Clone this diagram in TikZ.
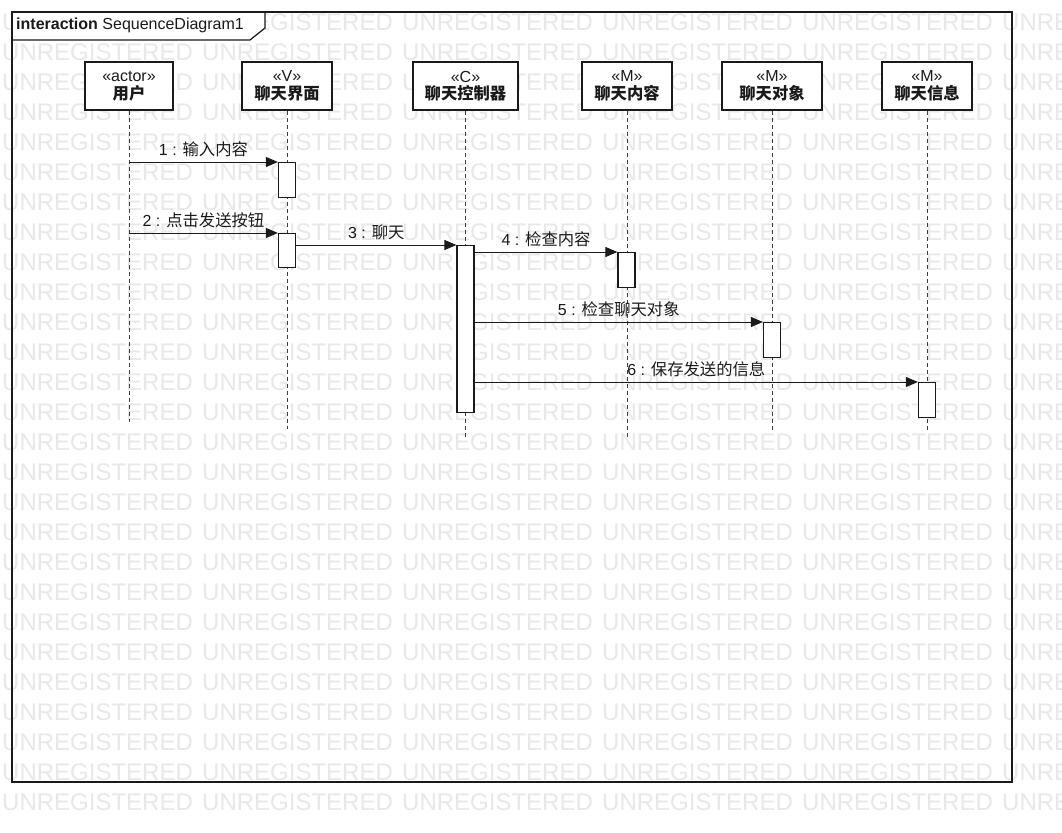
\documentclass[tikz,border=0pt]{standalone}
\usepackage{fontspec}
\setmainfont{Liberation Sans}
\newfontfamily\cjk[Scale=1.02]{Noto Sans CJK SC}
\usetikzlibrary{arrows.meta}
\definecolor{wm}{HTML}{E8E8E8}
\definecolor{ink}{HTML}{1A1A1A}
\begin{document}
\begin{tikzpicture}[x=1pt,y=-1pt,
  wmtext/.style={anchor=west, inner sep=0pt, text=wm, font=\fontsize{24}{24}\selectfont},
  frame/.style={draw=ink, line width=1.2pt},
  head/.style={draw=ink, line width=1.2pt, fill=white, minimum height=48pt, inner sep=0pt,
    align=center, text=ink, font=\fontsize{16}{17.5}\selectfont},
  lifeline/.style={draw=ink!85, line width=1pt, dash pattern=on 4pt off 3pt},
  act/.style={draw=ink, line width=1.2pt, fill=white, minimum width=17pt, inner sep=0pt, anchor=north},
  msg/.style={draw=ink, line width=1pt, -{Triangle[length=12pt,width=10pt]}},
  lbl/.style={midway, yshift=13pt, inner sep=0pt, text=ink, font=\fontsize{16}{18}\selectfont}]
\useasboundingbox (0,0) rectangle (1062,832);
\clip (0,0) rectangle (1062,832);
\fill[white] (0,0) rectangle (1062,832);
% watermark
\foreach \r in {0,...,26}{
  \foreach \c in {0,...,5}{
    \node[wmtext] (wm-\r-\c) at ({2+200*\c},{22+30*\r}) {UNREGISTERED};
  }
}
% frame
\draw[frame, fill=white] (12,12) -- (265,12) -- (265,28) -- (250,40) -- (12,40) -- cycle;
\draw[frame] (12,12) rectangle (1012,782);
\node[anchor=west, inner sep=0pt, text=ink, font=\fontsize{16}{18}\selectfont] (title) at (16,25)
  {\textbf{interaction} SequenceDiagram1};
% lifeline heads
\node[head, minimum width=88pt]  (user) at (129,86)   {«actor»\\{\cjk\bfseries 用户}};
\node[head, minimum width=90pt]  (view) at (287,86)   {«V»\\{\cjk\bfseries 聊天界面}};
\node[head, minimum width=105pt] (ctrl) at (465.5,86) {«C»\\{\cjk\bfseries 聊天控制器}};
\node[head, minimum width=90pt]  (cont) at (627,86)   {«M»\\{\cjk\bfseries 聊天内容}};
\node[head, minimum width=100pt] (peer) at (772,86)   {«M»\\{\cjk\bfseries 聊天对象}};
\node[head, minimum width=90pt]  (info) at (927,86)   {«M»\\{\cjk\bfseries 聊天信息}};
% lifelines
\coordinate (userEnd) at (129,422);
\coordinate (viewEnd) at (287,429);
\coordinate (ctrlEnd) at (465.5,438);
\coordinate (contEnd) at (627,438);
\coordinate (peerEnd) at (772,430);
\coordinate (infoEnd) at (927,431);
\draw[lifeline] (user.south) -- (userEnd);
\draw[lifeline] (view.south) -- (viewEnd);
\draw[lifeline] (ctrl.south) -- (ctrlEnd);
\draw[lifeline] (cont.south) -- (contEnd);
\draw[lifeline] (peer.south) -- (peerEnd);
\draw[lifeline] (info.south) -- (infoEnd);
% activations
\node[act, minimum height=35pt]  (a1) at (287,162) {};
\node[act, minimum height=34pt]  (a2) at (287,233) {};
\node[act, minimum height=167pt] (a3) at (465.5,245) {};
\node[act, minimum height=35pt]  (a4) at (626.5,252) {};
\node[act, minimum height=35pt]  (a5) at (772,322) {};
\node[act, minimum height=35pt]  (a6) at (927,382) {};
% messages
\draw[msg] (user.south |- a1.north) -- (a1.north west) node[lbl] (m1) {1 : {\cjk 输入内容}};
\draw[msg] (user.south |- a2.north) -- (a2.north west) node[lbl] (m2) {2 : {\cjk 点击发送按钮}};
\draw[msg] (a2.east |- a3.north) -- (a3.north west) node[lbl] (m3) {3 : {\cjk 聊天}};
\draw[msg] (a3.east |- a4.north) -- (a4.north west) node[lbl] (m4) {4 : {\cjk 检查内容}};
\draw[msg] (a3.east |- a5.north) -- (a5.north west) node[lbl] (m5) {5 : {\cjk 检查聊天对象}};
\draw[msg] (a3.east |- a6.north) -- (a6.north west) node[lbl] (m6) {6 : {\cjk 保存发送的信息}};
\end{tikzpicture}
\end{document}
